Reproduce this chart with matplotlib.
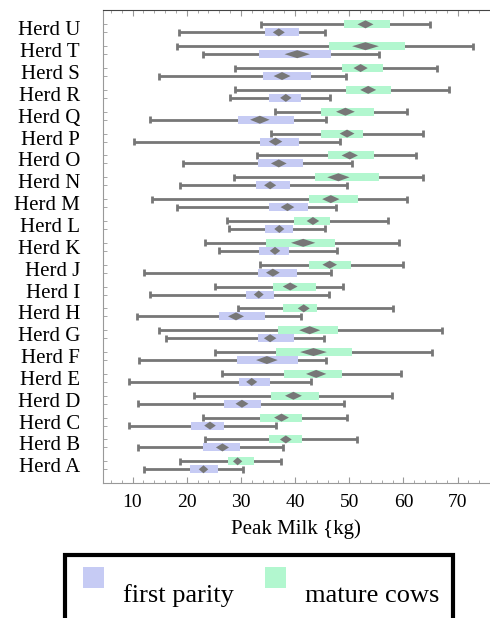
import numpy as np
import matplotlib
matplotlib.use("Agg")
import matplotlib.pyplot as plt
from matplotlib.patches import Polygon, Rectangle

plt.rcParams['font.family'] = ['Liberation Serif', 'DejaVu Serif']

herds = ["Herd A", "Herd B", "Herd C", "Herd D", "Herd E", "Herd F", "Herd G",
         "Herd H", "Herd I", "Herd J", "Herd K", "Herd L", "Herd M", "Herd N",
         "Herd O", "Herd P", "Herd Q", "Herd R", "Herd S", "Herd T", "Herd U"]

# five-number summaries: whisker low, Q1, median, Q3, whisker high
first_parity = [
    [12.1, 20.7, 23.1, 25.7, 30.4],  # A
    [11.0, 23.0, 26.6, 29.9, 37.7],  # B
    [9.4, 20.8, 24.3, 26.9, 36.4],   # C
    [11.0, 26.9, 30.2, 33.7, 49.0],  # D
    [9.4, 29.6, 32.0, 35.4, 42.9],   # E
    [11.2, 29.2, 34.8, 40.6, 45.8],  # F
    [16.2, 33.2, 35.4, 39.8, 45.3],  # G
    [10.8, 26.0, 29.1, 34.4, 41.1],  # H
    [13.3, 31.0, 33.3, 36.2, 46.2],  # I
    [12.1, 33.2, 35.9, 40.4, 46.7],  # J
    [26.0, 33.4, 36.3, 38.9, 47.8],  # K
    [27.9, 34.4, 37.1, 39.7, 45.5],  # L
    [18.3, 35.1, 38.6, 42.3, 47.5],  # M
    [18.8, 32.7, 35.4, 39.1, 49.5],  # N
    [19.4, 33.1, 37.0, 41.4, 50.6],  # O
    [10.2, 33.6, 36.4, 40.7, 48.3],  # P
    [13.3, 29.5, 33.5, 39.8, 45.7],  # Q
    [28.0, 35.1, 38.3, 41.1, 46.4],  # R
    [14.9, 34.0, 37.6, 42.9, 49.4],  # S
    [23.1, 33.3, 40.4, 46.7, 55.5],  # T
    [18.6, 34.4, 37.0, 40.7, 45.6],  # U
]
mature_cows = [
    [18.8, 27.6, 29.4, 32.5, 37.4],  # A
    [23.3, 35.1, 38.3, 41.3, 51.4],  # B
    [23.1, 33.5, 37.5, 41.3, 49.6],  # C
    [21.3, 35.6, 39.7, 44.5, 57.9],  # D
    [26.6, 38.0, 43.9, 48.7, 59.5],  # E
    [25.3, 36.5, 43.4, 50.6, 65.3],  # F
    [14.9, 36.8, 42.7, 47.9, 67.2],  # G
    [29.5, 37.7, 41.6, 44.0, 58.1],  # H
    [25.2, 36.0, 39.1, 43.8, 48.9],  # I
    [33.6, 42.6, 46.4, 50.3, 60.0],  # J
    [23.3, 34.6, 41.5, 47.4, 59.2],  # K
    [27.4, 39.8, 43.3, 46.4, 57.2],  # L
    [13.6, 42.6, 46.6, 51.7, 60.7],  # M
    [28.8, 43.7, 48.0, 55.5, 63.7],  # N
    [33.0, 46.0, 50.1, 54.6, 62.3],  # O
    [35.6, 44.7, 49.6, 52.5, 63.7],  # P
    [36.3, 44.7, 49.3, 54.6, 60.6],  # Q
    [29.0, 49.4, 53.5, 57.8, 68.4],  # R
    [29.0, 48.7, 52.1, 56.2, 66.2],  # S
    [18.2, 46.2, 53.0, 60.3, 72.9],  # T
    [33.7, 49.1, 53.0, 57.5, 65.0],  # U
]

blue = "#c6cbf4"
green = "#b2f7cf"
gray = "#777777"
frame = "#999999"

fig = plt.figure(figsize=(4.9, 6.18), dpi=100)
ax = fig.add_axes([103 / 490, 1 - 483 / 618, 386 / 490, 473 / 618])

off = 0.183   # half the gap between the two boxes of a herd
bh = 0.366    # box height
cap = 0.16


def draw_box(y, stats, color):
    lo, q1, med, q3, hi = stats
    ax.plot([lo, hi], [y, y], color=gray, lw=2.0, solid_capstyle='butt', zorder=1)
    for x in (lo, hi):
        ax.plot([x, x], [y - cap, y + cap], color=gray, lw=2.0,
                solid_capstyle='butt', zorder=1)
    ax.barh(y, q3 - q1, left=q1, height=bh, color=color, lw=0, zorder=2)
    w = 0.175 * (q3 - q1)
    h = bh / 2
    ax.add_patch(Polygon([(med - w, y), (med, y + h), (med + w, y), (med, y - h)],
                         closed=True, color=gray, lw=0, zorder=3))


pos = np.arange(len(herds))
for i in pos:
    draw_box(i - off, first_parity[i], blue)
    draw_box(i + off, mature_cows[i], green)

ax.set_xlim(4.55, 75.8)
ax.set_ylim(-0.81, 20.84)

ax.set_yticks(pos, herds)
ax.set_yticks(np.concatenate([pos - off, pos + off]), minor=True)
ax.tick_params(axis='y', which='major', length=0, pad=16.5, labelsize=15)
ax.tick_params(axis='y', which='minor', length=3, direction='in', color=frame)

ax.set_xticks(np.arange(10, 71, 10))
ax.set_xticks(np.arange(6, 76, 2), minor=True)
ax.tick_params(axis='x', which='both', direction='in', top=True, color=frame,
               labelsize=14, pad=8)
ax.tick_params(axis='x', which='major', length=4)
ax.tick_params(axis='x', which='minor', length=2)
ax.set_xlabel("Peak Milk {kg)", fontsize=15, labelpad=6)

for side in ax.spines.values():
    side.set_color(frame)
    side.set_linewidth(0.8)
ax.spines['top'].set_color('#444444')
ax.spines['right'].set_visible(False)


def fx(px):
    return px / 490


def fy(py):
    return 1 - py / 618


# legend box, running off the bottom edge
fig.patches.append(Rectangle((fx(65), fy(640)), fx(453) - fx(65), fy(555) - fy(640),
                             transform=fig.transFigure, fill=False, ec='black',
                             lw=3, clip_on=False))
for x0, color, label in [(83, blue, "first parity"), (265, green, "mature cows")]:
    fig.patches.append(Rectangle((fx(x0), fy(588)), fx(21), fy(567) - fy(588),
                                 transform=fig.transFigure, fc=color, ec='none'))
    fig.text(fx(x0 + 40), fy(596), label, fontsize=19, va='center', ha='left')

fig.savefig("out.png", dpi=100)
